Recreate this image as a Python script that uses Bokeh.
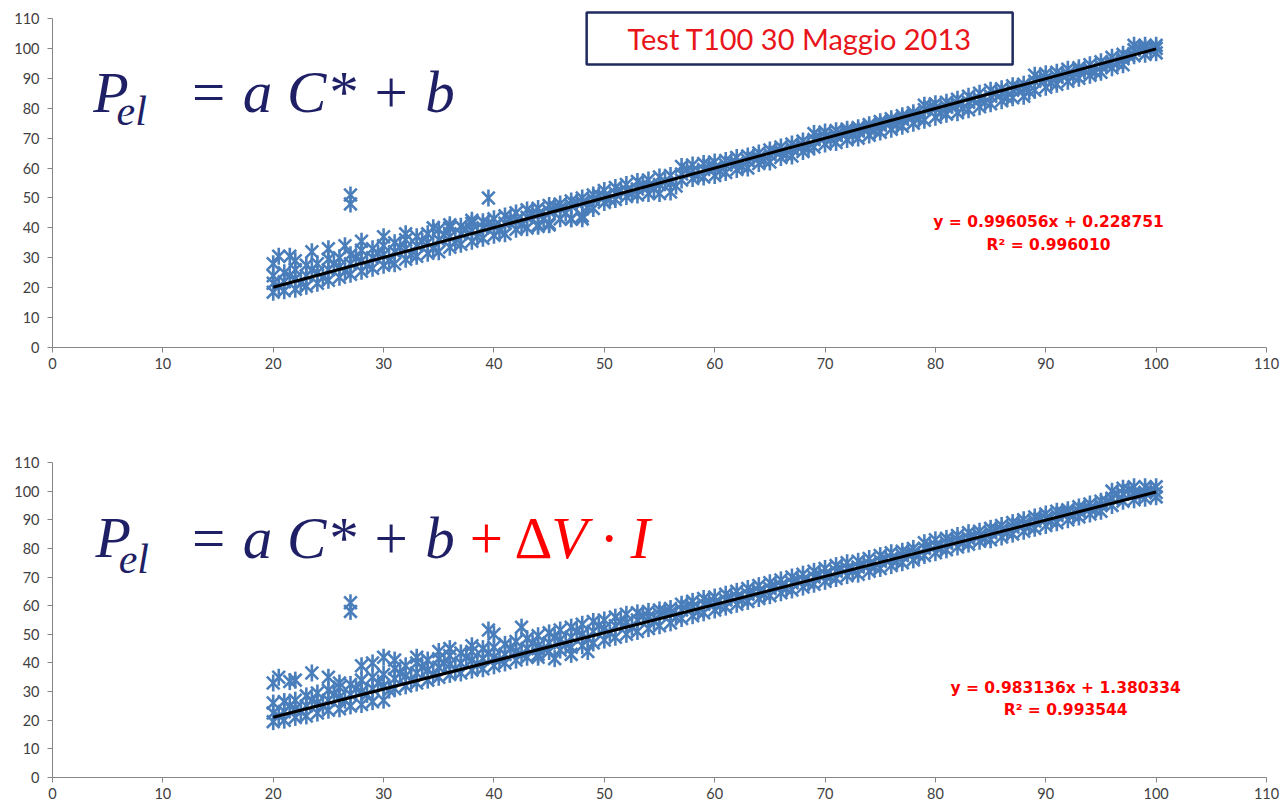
import numpy as np
from bokeh.plotting import figure
from bokeh.models import Range1d, FixedTicker, Label, BoxAnnotation, ColumnDataSource
from bokeh.layouts import column
from bokeh.embed import file_html
from bokeh.resources import INLINE

# ---------------- data ----------------
tick_values = [0, 10, 20, 30, 40, 50, 60, 70, 80, 90, 100, 110]

x_pos = [20, 21, 22, 23, 24, 25, 26, 27, 28, 29,
         30, 31, 32, 33, 34, 35, 36, 37, 38, 39,
         40, 41, 42, 43, 44, 45, 46, 47, 48, 49,
         50, 51, 52, 53, 54, 55, 56, 57, 58, 59,
         60, 61, 62, 63, 64, 65, 66, 67, 68, 69,
         70, 71, 72, 73, 74, 75, 76, 77, 78, 79,
         80, 81, 82, 83, 84, 85, 86, 87, 88, 89,
         90, 91, 92, 93, 94, 95, 96, 97, 98, 99, 100]
x_half = [20.5, 21.5, 22.5, 23.5, 24.5, 25.5, 26.5, 27.5, 28.5, 29.5,
          30.5, 31.5, 32.5, 33.5, 34.5, 35.5, 36.5, 37.5, 38.5, 39.5,
          40.5, 41.5, 42.5, 43.5, 44.5, 45.5, 46.5, 47.5, 48.5, 49.5,
          50.5, 51.5, 52.5, 53.5, 54.5, 55.5, 56.5, 57.5, 58.5, 59.5,
          60.5, 61.5, 62.5, 63.5, 64.5, 65.5, 66.5, 67.5, 68.5, 69.5,
          70.5, 71.5, 72.5, 73.5, 74.5, 75.5, 76.5, 77.5, 78.5, 79.5,
          80.5, 81.5, 82.5, 83.5, 84.5, 85.5, 86.5, 87.5, 88.5, 89.5,
          90.5, 91.5, 92.5, 93.5, 94.5, 95.5, 96.5, 97.5, 98.5, 99.5]

# top chart (Pel = a C* + b)
top_lo = [18.5, 19, 19.5, 20.5, 21.5, 22.5, 23.5, 24.5, 25.5, 26.5,
          27.5, 28, 29.5, 30.5, 31.5, 32, 33.5, 34.5, 35.5, 36.5,
          37.5, 38, 39.5, 40, 41, 41.5, 43, 43, 44, 46.5,
          48.5, 49.5, 50.5, 51, 51.5, 51.5, 52, 56, 56.5, 57,
          57.5, 58.5, 59.5, 60, 61.5, 62, 63.5, 64, 65.5, 67,
          68, 68.5, 69.5, 70, 71, 72, 73, 74, 75, 76,
          77, 78, 78.5, 79.5, 80.5, 81.5, 82.5, 83.5, 84, 86,
          87, 88, 89, 90, 91, 92, 93.5, 94.5, 97.5, 98, 98.5]
top_mid = [21.5, 22, 23, 24, 25, 26, 27, 28, 29, 30,
           31, 32, 33, 34, 35, 36, 37, 38, 39, 40,
           40.5, 41.5, 42.5, 43.5, 44.5, 45.5, 46.5, 47.5, 48.5, 49.5,
           50.5, 51.5, 52.5, 53, 54, 54.5, 55, 58, 59, 59.5,
           60, 61, 61.5, 62.5, 63.5, 64.5, 65.5, 66.5, 67.5, 69.5,
           70.5, 71, 72, 72.5, 73.5, 74.5, 75.5, 76.5, 77.5, 79.5,
           80, 80.5, 81.5, 82, 83, 84, 85, 86, 86.5, 89,
           90, 90.5, 91.5, 92.5, 93, 94, 95.5, 96.5, 99.5, 100, 100]
top_hi = [24, 25, 26, 27.5, 28, 29.5, 30, 31, 32.5, 33,
          34, 35, 36, 37, 38, 39.5, 40, 40.5, 41.5, 42,
          43, 44, 45, 46, 46.5, 47.5, 48, 49, 50, 51,
          52.5, 53.5, 54.5, 55.5, 56, 57, 57.5, 60.5, 61, 61.5,
          62, 62.5, 63.5, 64, 65, 66, 67, 68, 69, 71.5,
          72, 72.5, 73, 73.5, 74.5, 75.5, 76.5, 77.5, 78.5, 81,
          81.5, 82, 83, 84, 85, 86, 86.5, 87.5, 88, 91,
          91.5, 92, 93, 93.5, 94.5, 95.5, 97, 98, 101, 101, 101]
top_half = [20.5, 24, 21.5, 26, 23.5, 28, 25.5, 30, 27.5, 31.5,
            29, 33.5, 31, 35.5, 33, 37.5, 35, 39.5, 37, 41.5,
            39, 43, 41, 45, 43, 47, 45, 48.5, 47, 51,
            49.5, 52.5, 51.5, 54.5, 53, 55.5, 54, 59.5, 57.5, 61,
            59, 62, 60.5, 63.5, 62.5, 65.5, 64.5, 67, 66.5, 70.5,
            69.5, 71.5, 71, 73, 72.5, 75, 74.5, 77, 76.5, 80.5,
            78.5, 81, 80, 83, 82, 85, 83.5, 87, 85.5, 90,
            88.5, 91, 90.5, 92.5, 92, 94.5, 95, 97.5, 100, 99.5]
top_out_x = [20, 20.5, 21.5, 22, 23.5, 25, 26.5, 28, 30, 32, 34.5, 36, 38,
             27, 27, 39.5, 44, 45, 47, 48]
top_out_y = [28, 30.5, 30.5, 29, 32, 33, 34, 35.5, 37, 38, 40, 41, 42.5,
             48, 51, 50, 40.5, 41, 43, 43]

# bottom chart (Pel = a C* + b + dV*I)
bot_lo = [19.5, 20, 21, 21.5, 22.5, 23.5, 24, 25, 25.5, 26.5,
          27, 31, 32, 33, 34, 35, 36, 36.5, 37.5, 38,
          39, 40, 41, 42, 43, 44, 44.5, 45.5, 46, 47,
          48, 49, 50, 51, 52, 53, 54, 55.5, 56.5, 57.5,
          58.5, 59.5, 60.5, 61.5, 62.5, 63.5, 64.5, 65.5, 66.5, 67.5,
          68.5, 69.5, 70.5, 71, 72, 73, 74, 75, 76, 77.5,
          78.5, 79.5, 80.5, 81.5, 82.5, 83, 84, 85, 86, 87,
          88, 89, 90, 91, 92, 93, 95, 96.5, 97, 97.5, 98]
bot_mid = [22.5, 23, 24, 25, 26, 27, 28, 29, 30, 31,
           32, 34.5, 35.5, 36.5, 37.5, 38.5, 39.5, 40, 41, 41.5,
           42, 43, 44, 45, 46, 47, 48, 49, 50, 51,
           52, 53, 54, 55, 56, 57, 57.5, 58.5, 59.5, 60.5,
           61, 62, 63, 64, 65, 66, 67, 68, 69, 70,
           71, 72, 73, 73.5, 74.5, 75.5, 76.5, 77.5, 78.5, 80,
           81, 82, 83, 83.5, 84.5, 85.5, 86.5, 87.5, 88.5, 89.5,
           90.5, 91.5, 92.5, 93, 94, 95, 97.5, 99, 99.5, 99.5, 99.5]
bot_hi = [26, 26.5, 27, 28.5, 29.5, 30.5, 31.5, 32.5, 34, 35,
          36, 38, 39, 40, 41, 41.5, 42.5, 43.5, 44, 45,
          45.5, 46.5, 47.5, 48.5, 49.5, 50.5, 51.5, 52.5, 53.5, 54.5,
          55, 56, 57, 57.5, 58, 58.5, 59, 60.5, 61.5, 62.5,
          63, 64, 65, 66, 67, 68, 69, 70, 71, 72,
          73, 74, 75, 75.5, 76.5, 77.5, 78.5, 79, 80, 82,
          83, 83.5, 84.5, 85.5, 86, 87, 88, 89, 90, 91,
          92, 93, 93.5, 94.5, 95.5, 96.5, 100, 101, 101.5, 101.5, 101.5]
bot_half = [21.5, 25, 23, 27, 25, 29, 27, 31, 29, 33,
            30.5, 36.5, 34, 38.5, 36, 40, 38, 42, 39.5, 43.5,
            41, 45, 43, 47, 45, 49, 46.5, 51, 48.5, 53,
            50.5, 54.5, 52.5, 56.5, 54.5, 58, 56, 60, 58, 61.5,
            60, 63, 62, 65, 64, 67, 66, 69, 68, 71,
            70, 73, 72, 74.5, 73.5, 76.5, 75.5, 78.5, 77.5, 81,
            80, 82.5, 82, 84.5, 83.5, 86.5, 85.5, 88.5, 87.5, 90.5,
            89.5, 92.5, 91.5, 94, 93.5, 96.5, 99, 100.5, 98.5, 100.5]
bot_out_x = [20, 20.5, 21.5, 22, 23.5, 25, 26, 28, 29, 30, 31, 33, 35, 36, 38,
             39.5, 40, 42.5, 27, 27, 44, 45.5, 47, 48.5]
bot_out_y = [33, 35, 33.5, 34, 36.5, 35, 33, 39, 40, 42, 41, 42, 44, 45, 46,
             51.5, 50, 52.5, 58, 61, 42, 41.5, 43, 44]

top_fit = (0.996056, 0.228751, 0.996010)
bot_fit = (0.983136, 1.380334, 0.993544)
fit_x = [20, 100]

BLUE = "#4a7ebb"
NAVY = "#1f1f66"
RED = "#ff0000"
TICK_FONT = "Lato"


def style_axes(p):
    for ax in (p.xaxis, p.yaxis):
        ax.ticker = FixedTicker(ticks=tick_values)
        ax.axis_line_color = "#868686"
        ax.major_tick_line_color = "#868686"
        ax.minor_tick_line_color = None
        ax.major_tick_out = 5
        ax.major_tick_in = 0
        ax.major_label_text_font = TICK_FONT
        ax.major_label_text_font_size = "14.5px"
        ax.major_label_text_color = "#404040"
        ax.bounds = (0, 110)
    p.yaxis.major_label_standoff = 8
    p.xaxis.major_label_standoff = 5
    p.xgrid.visible = False
    p.ygrid.visible = False
    p.outline_line_color = None


def add_points(p, xs_list, ys_list, fit):
    xs = []
    ys = []
    for a, b in zip(xs_list, ys_list):
        xs += list(a)
        ys += list(b)
    src = ColumnDataSource(dict(x=xs, y=ys))
    p.scatter("x", "y", source=src, marker="x", size=18, line_color=BLUE, line_width=2.6)
    p.scatter("x", "y", source=src, marker="dash", angle=np.pi / 2, size=17,
              line_color=BLUE, line_width=2.6)
    slope, icpt, _ = fit
    fy = [slope * v + icpt for v in fit_x]
    p.line(fit_x, fy, line_color="black", line_width=3)


def eq_labels(p, fit, x, y1, y2):
    slope, icpt, r2 = fit
    p.add_layout(Label(x=x, y=y1, text=f"y = {slope:.6f}x + {icpt:.6f}",
                       text_align="center", text_baseline="middle",
                       text_font="DejaVu Sans", text_font_style="bold",
                       text_font_size="15.5px", text_color=RED))
    p.add_layout(Label(x=x, y=y2, text=f"R² = {r2:.6f}",
                       text_align="center", text_baseline="middle",
                       text_font="DejaVu Sans", text_font_style="bold",
                       text_font_size="15.5px", text_color=RED))


def formula(p, xP, yP, xsub, ysub, xeq):
    p.add_layout(Label(x=xP, y=yP, text="P", text_font="Liberation Serif",
                       text_font_style="italic", text_font_size="58px",
                       text_color=NAVY, text_baseline="alphabetic"))
    p.add_layout(Label(x=xsub, y=ysub, text="el", text_font="Liberation Serif",
                       text_font_style="italic", text_font_size="42px",
                       text_color=NAVY, text_baseline="alphabetic"))
    p.add_layout(Label(x=xeq, y=yP, text="= a C* + b", text_font="Liberation Serif",
                       text_font_style="italic", text_font_size="59px",
                       text_color=NAVY, text_baseline="alphabetic"))


# ---------------- top figure ----------------
p1 = figure(width=1287, height=395, x_range=Range1d(0, 110), y_range=Range1d(0, 116),
            output_backend="svg", toolbar_location=None,
            min_border_left=52, min_border_right=21, min_border_top=0, min_border_bottom=48)
style_axes(p1)
add_points(p1, [x_pos, x_pos, x_pos, x_half, top_out_x],
           [top_lo, top_mid, top_hi, top_half, top_out_y], top_fit)
eq_labels(p1, top_fit, 90.25, 42.1, 34.4)
formula(p1, 3.7, 85.3, 5.8, 78.9, 12.3)
p1.add_layout(BoxAnnotation(left=48.4, right=87.0, bottom=94.6, top=112.0,
                            fill_color="white", fill_alpha=1.0,
                            line_color="#1f2a5e", line_alpha=1.0, line_width=2.5))
p1.add_layout(Label(x=67.7, y=103.3, text="Test T100 30 Maggio 2013",
                    text_align="center", text_baseline="middle",
                    text_font="Lato", text_font_size="29px", text_color="#e8161b"))

# ---------------- bottom figure ----------------
p2 = figure(width=1287, height=414, x_range=Range1d(0, 110), y_range=Range1d(0, 110),
            output_backend="svg", toolbar_location=None,
            min_border_left=52, min_border_right=21, min_border_top=67, min_border_bottom=32)
style_axes(p2)
add_points(p2, [x_pos, x_pos, x_pos, x_half, bot_out_x],
           [bot_lo, bot_mid, bot_hi, bot_half, bot_out_y], bot_fit)
eq_labels(p2, bot_fit, 91.8, 31.4, 23.4)
formula(p2, 3.9, 83.8, 6.0, 76.4, 12.3)
p2.add_layout(Label(x=37.8, y=83.8, text="+ Δ", text_font="Liberation Serif",
                    text_font_size="59px", text_color=RED, text_baseline="alphabetic"))
p2.add_layout(Label(x=45.2, y=83.8, text="V · I", text_font="Liberation Serif",
                    text_font_style="italic", text_font_size="59px",
                    text_color=RED, text_baseline="alphabetic"))

layout = column(p1, p2, spacing=0)
open("out.html", "w").write(file_html(layout, INLINE))
